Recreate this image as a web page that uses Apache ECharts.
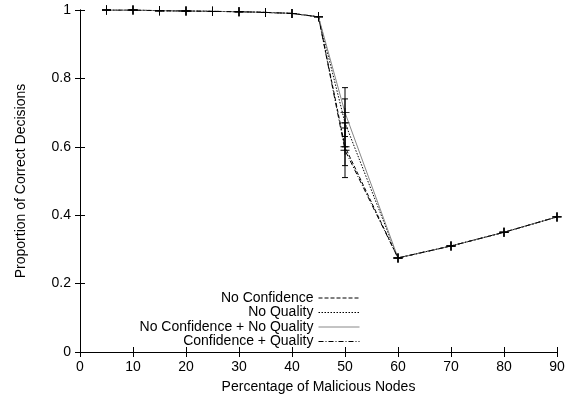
<!DOCTYPE html>
<html><head><meta charset="utf-8">
<script src="https://cdn.jsdelivr.net/npm/echarts@6/dist/echarts.min.js"></script>
<style>html,body{margin:0;padding:0;background:#fff}#c{width:572px;height:400px}</style>
</head><body><div id="c"></div>
<script>
const xValues = [5,10,15,20,25,30,35,40,45,50,60,70,80,90];
const noConfidence   = [1.0,1.0,0.998,0.997,0.996,0.995,0.993,0.99,0.98,0.60,0.275,0.31,0.35,0.395];
const noQuality      = [1.0,1.0,0.998,0.997,0.996,0.995,0.993,0.99,0.98,0.67,0.275,0.31,0.35,0.395];
const noBoth         = [1.0,1.0,0.998,0.997,0.996,0.995,0.993,0.99,0.98,0.70,0.275,0.31,0.35,0.395];
const confQuality    = [1.0,1.0,0.998,0.997,0.996,0.995,0.993,0.99,0.98,0.59,0.275,0.31,0.35,0.395];
// error bars at x=50: [x, low, high]
const errNoConfidence = [[50,0.545,0.655]];
const errNoQuality    = [[50,0.60,0.74]];
const errNoBoth       = [[50,0.63,0.773]];
const errConfQuality  = [[50,0.51,0.67]];
const seriesNames = ['No Confidence','No Quality','No Confidence + No Quality','Confidence + Quality'];
const xTicks = [0,10,20,30,40,50,60,70,80,90];

const plusPath = 'path://M4.5,0h1v4.5h4.5v1h-4.5v4.5h-1v-4.5h-4.5v-1h4.5z';
const font = 'Liberation Sans, Arial, sans-serif';
const fs = 14;

function pairs(ys){ return xValues.map((x,i)=>[x,ys[i]]); }
function lineSeries(name, ys, type, color){
  return {
    name, type:'line', data: pairs(ys), symbol: plusPath, symbolSize: 9,
    itemStyle:{color:'#000'},
    lineStyle:{color, width:1, type},
    animation:false, z: 3
  };
}
function errSeries(data, color){
  return {
    type:'custom', data, z: 4, animation:false, silent:true,
    renderItem(params, api){
      const x = api.value(0);
      const lo = api.coord([x, api.value(1)]);
      const hi = api.coord([x, api.value(2)]);
      const c = 3;
      return {type:'group', children:[
        {type:'line', shape:{x1:lo[0],y1:lo[1],x2:hi[0],y2:hi[1]}, style:{stroke:color,lineWidth:1}},
        {type:'line', shape:{x1:lo[0]-c,y1:lo[1],x2:lo[0]+c,y2:lo[1]}, style:{stroke:color,lineWidth:1}},
        {type:'line', shape:{x1:hi[0]-c,y1:hi[1],x2:hi[0]+c,y2:hi[1]}, style:{stroke:color,lineWidth:1}}
      ]};
    }
  };
}

const axisLine = {show:true, lineStyle:{color:'#000', width:1}};
const chart = echarts.init(document.getElementById('c'), null, {renderer:'canvas'});
chart.setOption({
  backgroundColor:'#fff',
  textStyle:{fontFamily:font},
  grid:{left:80, right:15, top:10, bottom:48},
  legend:{
    orient:'vertical', align:'right', right:207, top:286,
    itemWidth:41, itemHeight:10, itemGap:0.5,
    textStyle:{fontFamily:font, fontSize:fs, lineHeight:14, color:'#000'},
    itemStyle:{color:'rgba(0,0,0,0)', borderWidth:0, opacity:0},
    lineStyle:{width:1},
    data: seriesNames
  },
  xAxis:[
    {type:'value', min:0, max:90, interval:10, position:'bottom',
     name:'Percentage of Malicious Nodes', nameLocation:'middle', nameGap:28,
     nameTextStyle:{fontFamily:font, fontSize:fs, color:'#000'},
     axisLine, axisTick:{inside:true, length:5, lineStyle:{color:'#000'}},
     axisLabel:{fontFamily:font, fontSize:fs, color:'#000', margin:8},
     splitLine:{show:false}},
    {type:'value', min:0, max:90, interval:10, position:'top',
     axisLine, axisTick:{inside:true, length:5, lineStyle:{color:'#000'}},
     axisLabel:{show:false}, splitLine:{show:false}}
  ],
  yAxis:[
    {type:'value', min:0, max:1, interval:0.2, position:'left',
     name:'Proportion of Correct Decisions', nameLocation:'middle', nameGap:52,
     nameTextStyle:{fontFamily:font, fontSize:fs, color:'#000'},
     axisLine, axisTick:{inside:true, length:5, lineStyle:{color:'#000'}},
     axisLabel:{fontFamily:font, fontSize:fs, color:'#000', margin:9,
       formatter:v=>String(Math.round(v*10)/10)},
     splitLine:{show:false}},
    {type:'value', min:0, max:1, interval:0.2, position:'right',
     axisLine, axisTick:{inside:true, length:5, lineStyle:{color:'#000'}},
     axisLabel:{show:false}, splitLine:{show:false}}
  ],
  series:[
    lineSeries(seriesNames[0], noConfidence, [4,2], '#000'),
    lineSeries(seriesNames[1], noQuality, [1.5,1.5], '#000'),
    lineSeries(seriesNames[2], noBoth, 'solid', '#888'),
    lineSeries(seriesNames[3], confQuality, [5,2,1,2], '#000'),
    errSeries(errNoConfidence,'#000'),
    errSeries(errNoQuality,'#000'),
    errSeries(errNoBoth,'#000'),
    errSeries(errConfQuality,'#000')
  ]
});
</script></body></html>
